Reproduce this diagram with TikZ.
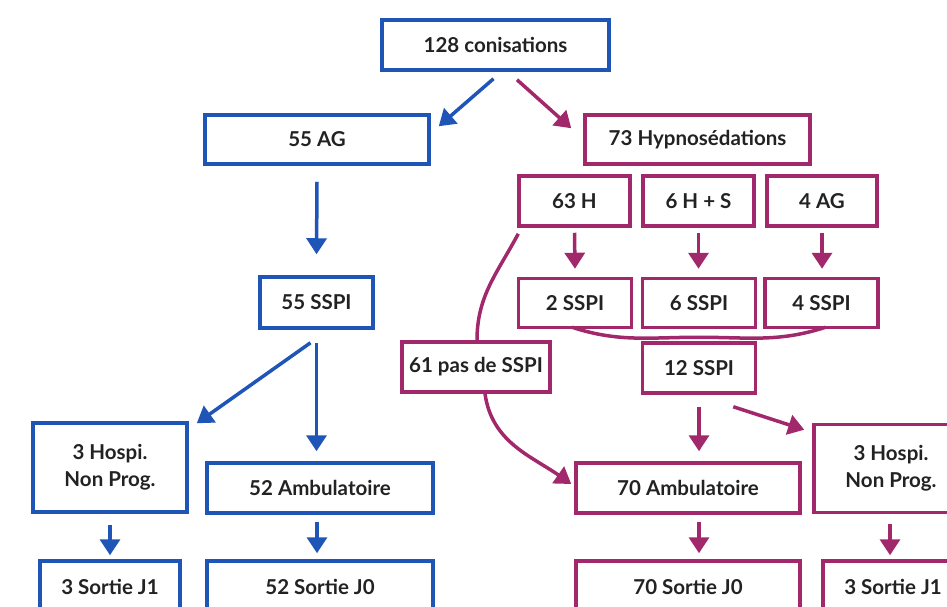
\documentclass[tikz,border=0pt]{standalone}
\usepackage{fontspec}
\setmainfont{Lato}
\usetikzlibrary{arrows.meta,calc}
\definecolor{cblue}{HTML}{1F55B7}
\definecolor{cmag}{HTML}{A2286C}
\definecolor{ctext}{HTML}{222222}
\begin{document}
\begin{tikzpicture}[x=1pt,y=1pt,
  box/.style={draw,line width=3.5pt,rectangle,inner sep=0pt,align=center,
    text=ctext,font=\fontsize{20.5}{27}\selectfont\bfseries},
  bbox/.style={box,draw=cblue},
  mbox/.style={box,draw=cmag},
  arr/.style={line width=3.5pt,-{Triangle[width=20pt,length=16pt]}},
  barr/.style={arr,draw=cblue},
  marr/.style={arr,draw=cmag},
  mline/.style={line width=3.5pt,draw=cmag}]
\useasboundingbox (0,0) rectangle (947,-606);
\clip (0,0) rectangle (947,-606);
% blue branch
\node[bbox,minimum width=227pt,minimum height=50pt] (top) at (495.5,-45) {128 conisations};
\node[bbox,minimum width=224pt,minimum height=49pt] (ag) at (317,-139.5) {55 AG};
\node[bbox,minimum width=113pt,minimum height=51pt] (sspi55) at (316.5,-302.5) {55 SSPI};
\node[bbox,minimum width=154pt,minimum height=89pt] (hosL) at (110,-467.5) {3 Hospi.\\Non Prog.};
\node[bbox,minimum width=226pt,minimum height=50pt] (ambL) at (320,-488) {52 Ambulatoire};
\node[bbox,minimum width=140pt,minimum height=52pt] (sorL) at (110,-587) {3 Sortie J1};
\node[bbox,minimum width=226pt,minimum height=52pt] (sorJ0L) at (320,-587) {52 Sortie J0};
% magenta branch
\node[mbox,minimum width=225pt,minimum height=49pt] (hyp) at (697.5,-139.5) {73 Hypnosédations};
\node[mbox,minimum width=111pt,minimum height=50pt] (h63) at (574.5,-201) {63 H};
\node[mbox,minimum width=111pt,minimum height=50pt] (hs6) at (698.5,-201) {6 H + S};
\node[mbox,minimum width=110pt,minimum height=50pt] (ag4) at (822,-201) {4 AG};
\node[mbox,minimum width=113pt,minimum height=49pt] (s2) at (575,-303) {2 SSPI};
\node[mbox,minimum width=113pt,minimum height=49pt] (s6) at (699,-303) {6 SSPI};
\node[mbox,minimum width=113pt,minimum height=49pt] (s4) at (821.5,-303) {4 SSPI};
\node[mbox,minimum width=113pt,minimum height=50pt] (s12) at (699,-368) {12 SSPI};
\node[mbox,minimum width=148pt,minimum height=50pt] (nos) at (476,-367) {61 pas de SSPI};
\node[mbox,minimum width=224pt,minimum height=50pt] (amb70) at (688,-488) {70 Ambulatoire};
\node[mbox,minimum width=154pt,minimum height=88pt] (hosR) at (891,-468.5) {3 Hospi.\\Non Prog.};
\node[mbox,minimum width=224pt,minimum height=52pt] (sor70) at (688,-587) {70 Sortie J0};
\node[mbox,minimum width=140pt,minimum height=52pt] (sorR) at (893,-587) {3 Sortie J1};
% blue arrows
\draw[barr] ($(top.south)+(-2,-7)$) -- ($(ag.north east)+(8,-13)$);
\draw[barr] ($(ag.south)+(0,-16)$) -- ($(sspi55.north)+(0,21)$);
\draw[barr] ($(sspi55.south)+(-6,-13)$) -- ($(hosL.north east)+(8,-2)$);
\draw[barr] ($(sspi55.south)+(0,-13)$) -- ($(sspi55.south|-ambL.north)+(0,10)$);
\draw[barr] ($(hosL.south)+(0,-11)$) -- ($(sorL.north)+(0,4)$);
\draw[barr] ($(ambL.south)+(-3,-7)$) -- ($(ambL.south|-sorJ0L.north)+(-3,6)$);
% magenta arrows
\draw[marr] ($(top.south)+(21.5,-8)$) -- ($(hyp.north west)+(-12,-15)$);
\draw[marr] ($(h63.south)+(0,-5)$) -- ($(s2.north)+(0,8)$);
\draw[marr] ($(hs6.south)+(0,-5)$) -- ($(hs6.south|-s6.north)+(0,8)$);
\draw[marr] ($(ag4.south)+(0,-5)$) -- ($(ag4.south|-s4.north)+(0,8)$);
\draw[mline] ($(s2.south)+(-3,2)$) to[out=-18,in=180] ($(s12.north)+(0,4)$);
\draw[mline] ($(s4.south)+(4,2)$) to[out=-162,in=0] ($(s12.north)+(0,4)$);
\draw[mline] ($(h63.south west)+(1,-6)$) to[out=-118,in=90] ($(nos.north)+(1,0)$);
\draw[marr] ($(nos.south)+(9,0)$) to[out=-82,in=145] ($(amb70.west)+(-3,4)$);
\draw[marr] ($(s12.south)+(0,-12)$) -- ($(s12.south|-amb70.north)+(0,10)$);
\draw[marr] ($(s12.south east)+(-24,-12)$) -- ($(hosR.north west)+(-8,-7)$);
\draw[marr] ($(s12.south|-amb70.south)+(0,-7)$) -- ($(s12.south|-sor70.north)+(0,6)$);
\draw[marr] ($(hosR.south)+(-1,-10)$) -- ($(hosR.south|-sorR.north)+(-1,4)$);
\end{tikzpicture}
\end{document}
